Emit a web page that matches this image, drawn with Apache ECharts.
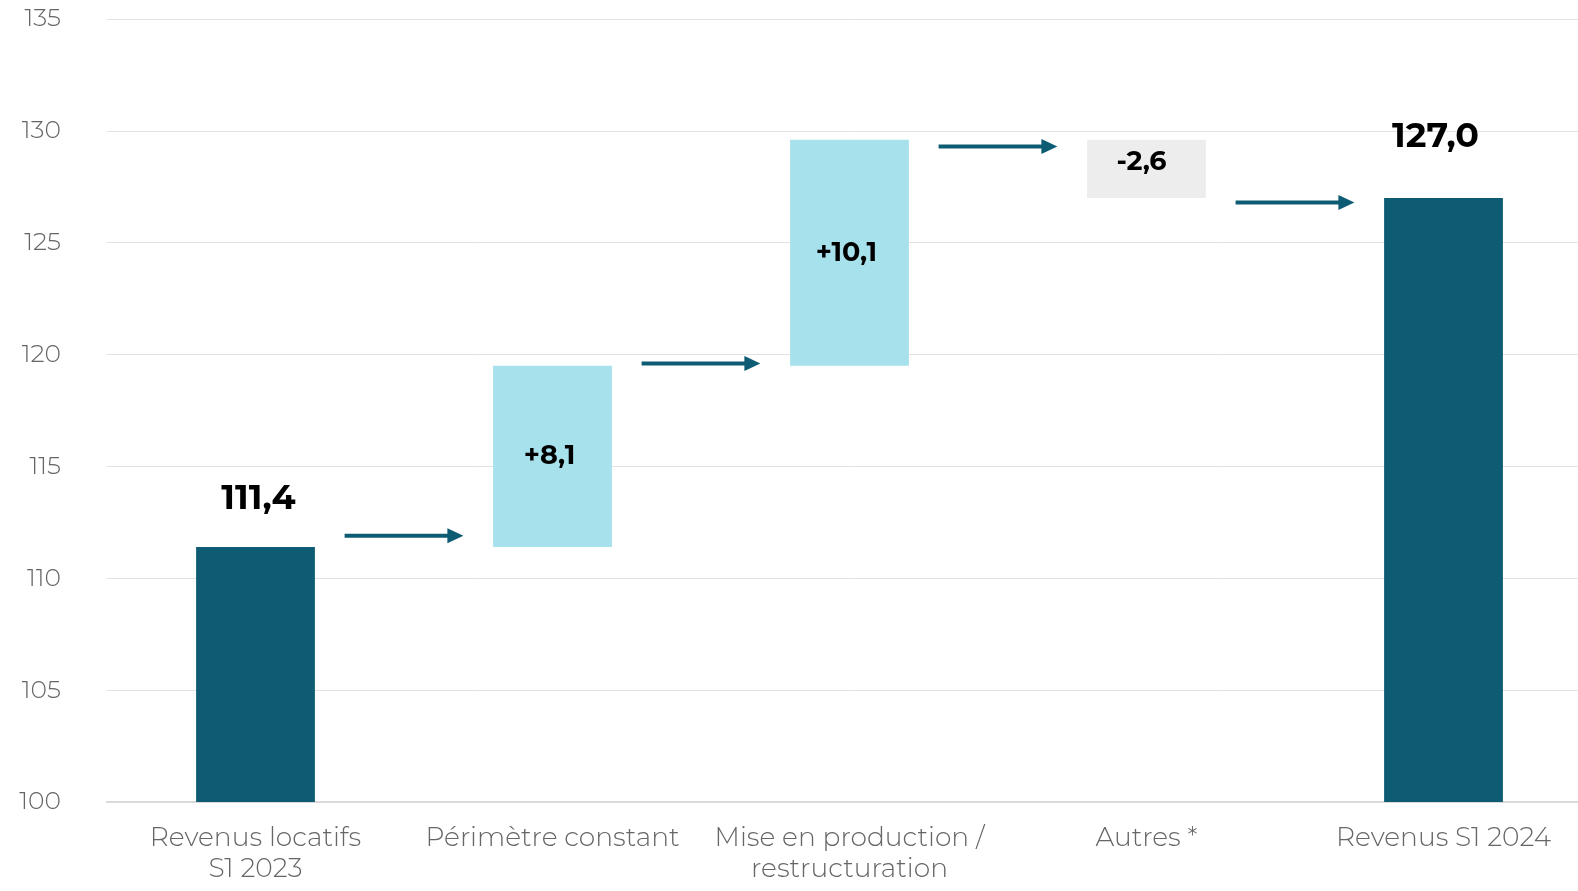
<!DOCTYPE html>
<html>
<head>
<meta charset="utf-8">
<script src="https://cdn.jsdelivr.net/npm/echarts@6/dist/echarts.min.js"></script>
<style>html,body{margin:0;padding:0;background:#fff;overflow:hidden;}#c{width:1600px;height:891px;}</style>
</head>
<body>
<div id="c"></div>
<script>
var categories = ['Revenus locatifs\nS1 2023', 'Périmètre constant', 'Mise en production /\nrestructuration', 'Autres *', 'Revenus S1 2024'];
var startValue = 111.4;
var deltas = [8.1, 10.1, -2.6];
var endValue = 127.0;
var arrowLevels = [111.9, 119.6, 129.3, 126.8];
var yTicks = {min: 100, max: 135, interval: 5};

var DARK = '#0E5C73', LIGHT = '#A6E1EC', GREY = '#EDEDED';
var FONT = 'Montserrat, "Open Sans", Lato, sans-serif';

function fmt(v, sign) {
  var s = Math.abs(v).toFixed(1).replace('.', ',');
  if (sign) return (v >= 0 ? '+' : '-') + s;
  return (v < 0 ? '-' : '') + s;
}

var baseData = [], valData = [];
baseData.push(0);
valData.push({value: startValue, itemStyle: {color: DARK}, label: {show: true, position: 'top', distance: 31, fontSize: 35, fontWeight: 'bold', color: '#000', formatter: fmt(startValue), offset: [3, 0]}});
var running = startValue;
deltas.forEach(function (d) {
  var lo = d >= 0 ? running : running + d;
  baseData.push(lo);
  valData.push({value: Math.abs(d), itemStyle: {color: d >= 0 ? LIGHT : GREY},
    label: {show: true, position: 'inside', fontSize: 27, fontWeight: 'bold', color: '#000', formatter: fmt(d, true), offset: d < 0 ? [-5, -7] : [-3, 0]}});
  running += d;
});
baseData.push(0);
valData.push({value: endValue, itemStyle: {color: DARK}, label: {show: true, position: 'top', distance: 44, fontSize: 35, fontWeight: 'bold', color: '#000', formatter: fmt(endValue), offset: [-8, 0]}});

var chart = echarts.init(document.getElementById('c'));
chart.setOption({
  animation: false,
  textStyle: {fontFamily: FONT},
  grid: {left: 107, right: 8, top: 19, bottom: 89, containLabel: false},
  xAxis: {
    type: 'category', data: categories, boundaryGap: true,
    axisLine: {show: true, lineStyle: {color: '#D9D9D9', width: 2}},
    axisTick: {show: false},
    axisLabel: {color: '#666', fontSize: 26.5, fontWeight: 300, lineHeight: 31, margin: 21, interval: 0, fontFamily: FONT}
  },
  yAxis: {
    type: 'value', min: yTicks.min, max: yTicks.max, interval: yTicks.interval,
    axisLine: {show: false}, axisTick: {show: false},
    splitLine: {lineStyle: {color: '#E2E2E2', width: 1}},
    axisLabel: {color: '#666', fontSize: 25, fontWeight: 300, margin: 46, fontFamily: FONT}
  },
  series: [
    {type: 'bar', stack: 'w', data: baseData, barWidth: '40%', itemStyle: {color: 'transparent'}, silent: true},
    {type: 'bar', stack: 'w', data: valData, barWidth: '40%'},
    {
      type: 'custom', clip: false, silent: true,
      data: arrowLevels.map(function (v, i) { return [i, v]; }),
      renderItem: function (params, api) {
        var i = api.value(0), v = api.value(1);
        var p0 = api.coord([i, v]), p1 = api.coord([i + 1, v]);
        var mid = (p0[0] + p1[0]) / 2;
        var half = api.size([1, 0])[0] * 0.2;
        var x0 = mid - half, x1 = mid + half, y = p0[1];
        var head = 16, hh = 7.5;
        return {type: 'group', children: [
          {type: 'line', shape: {x1: x0, y1: y, x2: x1 - head + 2, y2: y}, style: {stroke: DARK, lineWidth: 4}},
          {type: 'polygon', shape: {points: [[x1 - head, y - hh], [x1, y], [x1 - head, y + hh]]}, style: {fill: DARK}}
        ]};
      }
    }
  ]
});
</script>
</body>
</html>
